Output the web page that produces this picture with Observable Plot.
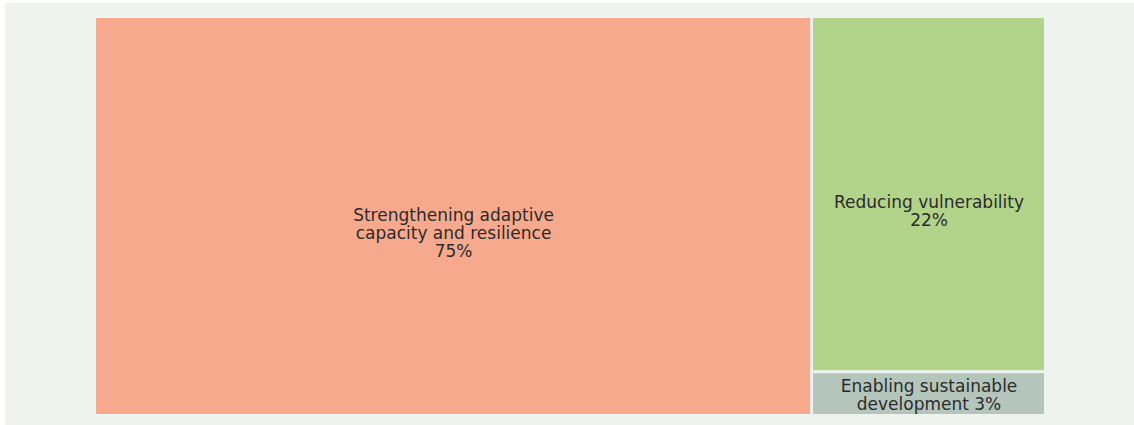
<!DOCTYPE html>
<html>
<head>
<meta charset="utf-8">
<script src="https://cdn.jsdelivr.net/npm/d3@7"></script>
<script src="https://cdn.jsdelivr.net/npm/@observablehq/plot@0.6"></script>
<style>
  html, body { margin: 0; padding: 0; background: #ffffff; }
  #chart { position: absolute; left: 5px; top: 3px; }
</style>
</head>
<body>
<div id="chart"></div>
<script>
const categories = ["Strengthening adaptive capacity and resilience", "Reducing vulnerability", "Enabling sustainable development"];
const labelLines = ["Strengthening adaptive\ncapacity and resilience", "Reducing vulnerability", "Enabling sustainable\ndevelopment"];
const shares = [75.4, 21.9, 2.7];
const colors = ["#f7a98d", "#b2d38a", "#b4c6bc"];
const inlinePct = [false, false, true];

const W = 1129, H = 422;
const mL = 91, mR = 90, mT = 15, mB = 11;
const iw = W - mL - mR, ih = H - mT - mB;

const root = d3.hierarchy({children: categories.map((c, i) => ({name: c, value: shares[i], i}))})
  .sum(d => d.value || 0);
d3.treemap().tile(d3.treemapBinary).size([iw, ih]).paddingInner(3).round(false)(root);

const cells = root.leaves().map(l => {
  const i = l.data.i;
  const pct = Math.round(shares[i]) + "%";
  return {
    name: l.data.name, x0: l.x0, x1: l.x1, y0: l.y0, y1: l.y1,
    cx: (l.x0 + l.x1) / 2, cy: (l.y0 + l.y1) / 2,
    label: inlinePct[i] ? labelLines[i] + " " + pct : labelLines[i] + "\n" + pct,
    big: !inlinePct[i]
  };
});

const chart = Plot.plot({
  width: W, height: H,
  marginLeft: mL, marginRight: mR, marginTop: mT, marginBottom: mB,
  style: {background: "#eef3ef", fontFamily: "DejaVu Sans"},
  x: {domain: [0, iw], axis: null},
  y: {domain: [0, ih], axis: null, reverse: true},
  color: {domain: categories, range: colors},
  marks: [
    Plot.rect(cells, {x1: "x0", x2: "x1", y1: "y0", y2: "y1", fill: "name"}),
    Plot.text(cells.filter(d => d.big), {x: "cx", y: "cy", text: "label", dy: 17, fontSize: 17, lineHeight: 1.05, fill: "#2b2b2b"}),
    Plot.text(cells.filter(d => !d.big), {x: "cx", y: "cy", text: "label", dy: 1.5, fontSize: 17, lineHeight: 1.05, fill: "#2b2b2b"})
  ]
});
document.getElementById("chart").appendChild(chart);
</script>
</body>
</html>
